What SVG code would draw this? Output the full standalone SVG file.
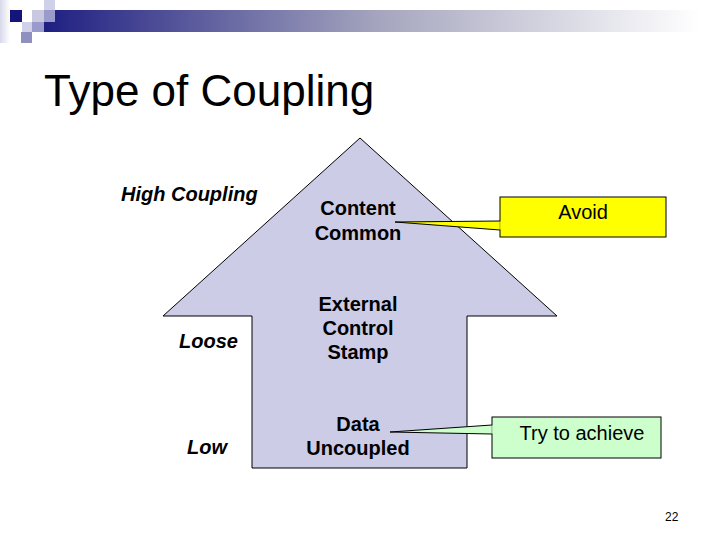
<svg xmlns="http://www.w3.org/2000/svg" width="720" height="540" viewBox="0 0 720 540">
<defs>
<linearGradient id="bar" x1="0" y1="0" x2="1" y2="0">
<stop offset="0" stop-color="#1a1a80"/>
<stop offset="0.5" stop-color="#a4a4be"/>
<stop offset="0.97" stop-color="#ffffff"/>
</linearGradient>
<linearGradient id="strip" x1="0" y1="0" x2="1" y2="0">
<stop offset="0" stop-color="#d8d8ec"/>
<stop offset="1" stop-color="#ffffff"/>
</linearGradient>
<style>
.lbl{font-family:"Liberation Sans",Arial,sans-serif;font-size:20px;font-weight:bold;fill:#000;text-anchor:middle}
.side{font-family:"Liberation Sans",Arial,sans-serif;font-size:20px;font-weight:bold;font-style:italic;fill:#000}
.call{font-family:"Liberation Sans",Arial,sans-serif;font-size:20px;fill:#000;text-anchor:middle}
</style>
</defs>
<rect width="720" height="540" fill="#ffffff"/>
<g id="header">
<rect x="0" y="0" width="10" height="43" fill="url(#strip)"/>
<rect x="32" y="10" width="688" height="22" fill="url(#bar)"/>
<rect x="10" y="10" width="12" height="12" fill="#14147a"/>
<rect x="32" y="10" width="12" height="12" fill="#c8c8e0"/>
<rect x="44" y="0" width="11" height="10" fill="#d0d0e8"/>
<rect x="44" y="10" width="11" height="12" fill="#9a9acc"/>
<rect x="22" y="22" width="10" height="10" fill="#d0d0e8"/>
<rect x="32" y="22" width="12" height="10" fill="#9a9acc"/>
<rect x="21" y="32" width="11" height="11" fill="#9090c0"/>
</g>
<text x="44" y="106" style="font-family:'Liberation Sans',Arial,sans-serif;font-size:44px;fill:#000">Type of Coupling</text>
<g id="arrow">
<polygon points="360,138 557,316 467,316 467,468 252,468 252,316 163,316" fill="#ccccE6" stroke="#000" stroke-width="1"/>
</g>
<g id="side-labels">
<text class="side" x="121" y="201">High Coupling</text>
<text class="side" x="179" y="348">Loose</text>
<text class="side" x="187" y="454">Low</text>
</g>
<g id="levels">
<text class="lbl" x="358" y="215">Content</text>
<text class="lbl" x="358" y="240">Common</text>
<text class="lbl" x="358" y="311">External</text>
<text class="lbl" x="358" y="335">Control</text>
<text class="lbl" x="358" y="359">Stamp</text>
<text class="lbl" x="358" y="431">Data</text>
<text class="lbl" x="358" y="455">Uncoupled</text>
</g>
<g id="connectors">
<polygon points="395,222 500,221 500,230" fill="#ffff00" stroke="#000" stroke-width="1"/>
<polygon points="390,432 492,425 492,434" fill="#ccffcc" stroke="#000" stroke-width="1"/>
</g>
<g id="avoid">
<rect x="500" y="197" width="166" height="40" fill="#ffff00" stroke="#000" stroke-width="1"/>
<line x1="500" y1="221.5" x2="500" y2="229.5" stroke="#ffff00" stroke-width="1.5"/>
<text class="call" x="583" y="219">Avoid</text>
</g>
<g id="achieve">
<rect x="492" y="417" width="169" height="41" fill="#ccffcc" stroke="#000" stroke-width="1"/>
<line x1="492" y1="425.5" x2="492" y2="433.5" stroke="#ccffcc" stroke-width="1.5"/>
<text class="call" x="582" y="440">Try to achieve</text>
</g>
<text x="665" y="521" style="font-family:'Liberation Sans',Arial,sans-serif;font-size:12px;fill:#000">22</text>
</svg>
